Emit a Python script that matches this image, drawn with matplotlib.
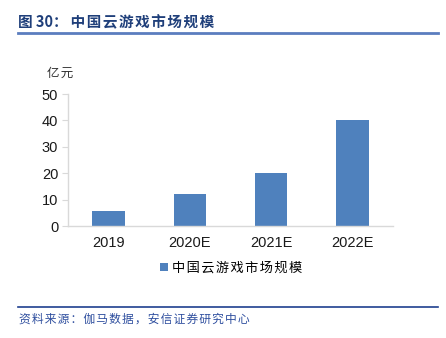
import matplotlib
matplotlib.use("Agg")
import matplotlib.pyplot as plt
from matplotlib.patches import Patch
from matplotlib.lines import Line2D

plt.rcParams['font.family'] = ['Liberation Sans', 'Noto Sans CJK SC', 'DejaVu Sans']

categories = ["2019", "2020E", "2021E", "2022E"]
values = [5.5, 12, 20, 40]
yticks = [0, 10, 20, 30, 40, 50]
title = "图 30：中国云游戏市场规模"
unit = "亿元"
legend_label = "中国云游戏市场规模"
source = "资料来源：伽马数据，安信证券研究中心"


def spaced(s, sp="\u200a"):
    return sp.join(s)


CJK = ['Noto Sans CJK SC', 'DejaVu Sans']

W, H = 446, 338
fig = plt.figure(figsize=(W / 100, H / 100), dpi=100)

ax = fig.add_axes([68 / W, 1 - 226 / H, (393 - 68) / W, (226 - 94) / H])
bar_color = "#4F81BD"
x = list(range(len(categories)))
ax.bar(x, values, width=0.4, color=bar_color, zorder=2)
ax.set_xlim(-0.5, len(categories) - 0.5)
ax.set_ylim(0, 50)
ax.set_yticks(yticks)
ax.set_xticks(x)
ax.set_xticklabels(categories)
for s in ["top", "right"]:
    ax.spines[s].set_visible(False)
for s in ["left", "bottom"]:
    ax.spines[s].set_color("#D9D9D9")
    ax.spines[s].set_linewidth(1.0)
ax.tick_params(axis="y", length=4, color="#D9D9D9", labelsize=10.5, pad=3, labelcolor="#1a1a1a")
ax.tick_params(axis="x", length=0, labelsize=10.5, pad=7, labelcolor="#1a1a1a")

fig.text(60 / W, 1 - 73 / H, spaced(unit), fontsize=9, family=CJK, ha="center", va="center", color="#333333")

handles = [Patch(facecolor=bar_color, edgecolor="none", label=spaced(legend_label))]
fig.legend(handles=handles, loc="center", bbox_to_anchor=(231 / W, 1 - 268 / H), frameon=False,
           prop={'family': CJK, 'size': 9.5}, handlelength=0.6, handleheight=0.6,
           handletextpad=0.3)

fig.text(18 / W, 1 - 22 / H, "图 30：\u200a\u200a" + spaced(title[5:]), fontsize=10.5,
         fontweight="bold", color="#1F3F7A", family=CJK, ha="left", va="center")
fig.add_artist(Line2D([18 / W, 438 / W], [1 - 33 / H, 1 - 33 / H], color="#5B7DBF", linewidth=2))

fig.add_artist(Line2D([18 / W, 438 / W], [1 - 307 / H, 1 - 307 / H], color="#1F3F8F", linewidth=1.2))
fig.text(19 / W, 1 - 319 / H, spaced(source), fontsize=8.5, color="#2F4F9F",
         family=CJK, ha="left", va="center")

fig.savefig("out.png", dpi=100)
